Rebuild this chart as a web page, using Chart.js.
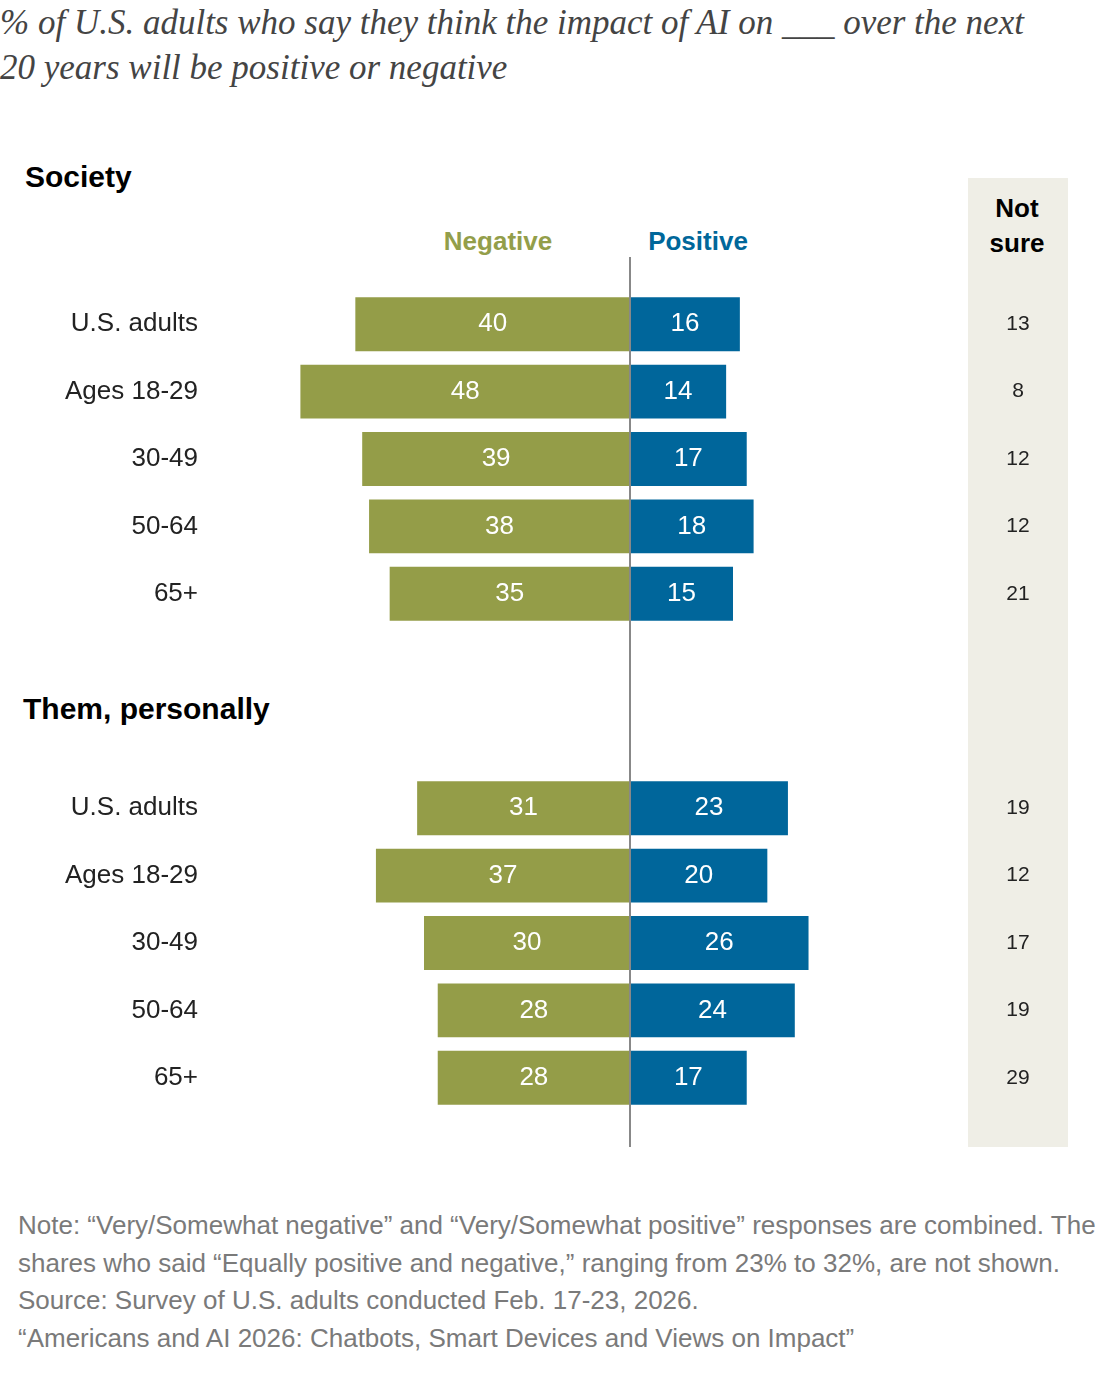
<!DOCTYPE html>
<html><head><meta charset="utf-8">
<script src="https://cdn.jsdelivr.net/npm/chart.js@4"></script>
<style>
body{margin:0;width:1103px;height:1394px;position:relative;background:#fff;font-family:"Liberation Sans",Arial,sans-serif;overflow:hidden}
.abs{position:absolute}
#title{left:18px;top:18px;width:1060px;font-family:"Liberation Serif",serif;font-style:italic;font-size:35px;line-height:45px;color:#444}
.sec{font-weight:bold;font-size:30px;color:#000}
.hd{font-weight:bold;font-size:26px;transform:translateX(-50%)}
#ns{left:968px;top:178px;width:100px;height:969px;background:#efeee6}
#note{left:18px;top:1207px;width:1080px;font-size:26px;line-height:37.5px;color:#7a7a7a}
#axis{left:629px;top:257px;width:2px;height:890px;background:#888}
canvas{position:absolute;left:0}
</style></head><body>
<div id="title">% of U.S. adults who say they think the impact of AI on ___ over the next 20 years will be positive or negative</div>
<div id="ns" class="abs"></div>
<div class="abs sec" style="left:25px;top:160px">Society</div>
<div class="abs sec" style="left:23px;top:692px">Them, personally</div>
<div class="abs hd" style="left:498px;top:226px;color:#939e4a">Negative</div>
<div class="abs hd" style="left:698px;top:226px;color:#00679a">Positive</div>
<div class="abs hd" style="left:1017px;top:191px;text-align:center;line-height:35px;color:#000">Not<br>sure</div>
<div style="position:absolute;left:0;top:263px;width:1103px;height:392px"><canvas id="c1"></canvas></div>
<div style="position:absolute;left:0;top:747px;width:1103px;height:392px"><canvas id="c2"></canvas></div>
<div id="axis" class="abs"></div>
<div id="note" class="abs">Note: “Very/Somewhat negative” and “Very/Somewhat positive” responses are combined. The shares who said “Equally positive and negative,” ranging from 23% to 32%, are not shown.<br>Source: Survey of U.S. adults conducted Feb. 17-23, 2026.<br>“Americans and AI 2026: Chatbots, Smart Devices and Views on Impact”</div>
<script>
const groups = ['U.S. adults', 'Ages 18-29', '30-49', '50-64', '65+'];
const societyNegative = [40, 48, 39, 38, 35];
const societyPositive = [16, 14, 17, 18, 15];
const societyNotSure = [13, 8, 12, 12, 21];
const personalNegative = [31, 37, 30, 28, 28];
const personalPositive = [23, 20, 26, 24, 17];
const personalNotSure = [19, 12, 17, 19, 29];

const labelPlugin = {
  id: 'labels',
  afterDatasetsDraw(chart, args, opts) {
    const ctx = chart.ctx;
    ctx.save();
    ctx.textAlign = 'center';
    ctx.textBaseline = 'middle';
    ctx.fillStyle = '#fff';
    ctx.font = '26px "Liberation Sans", Arial, sans-serif';
    chart.data.datasets.forEach((ds, i) => {
      chart.getDatasetMeta(i).data.forEach((bar, j) => {
        ctx.fillText(Math.abs(ds.data[j]), (bar.x + bar.base) / 2, bar.y);
      });
    });
    ctx.fillStyle = '#222';
    ctx.font = '21px "Liberation Sans", Arial, sans-serif';
    chart.getDatasetMeta(0).data.forEach((bar, j) => {
      ctx.fillText(opts.notSure[j], 1018, bar.y);
    });
    ctx.restore();
  }
};

function makeChart(id, neg, pos, notSure) {
  new Chart(document.getElementById(id), {
    type: 'bar',
    data: {
      labels: groups,
      datasets: [
        { data: neg.map(v => -v), backgroundColor: '#949d48' },
        { data: pos, backgroundColor: '#00669b' }
      ]
    },
    options: {
      indexAxis: 'y',
      responsive: true,
      maintainAspectRatio: false,
      animation: false,
      layout: { padding: { left: 0, right: 61, top: 0, bottom: 0 } },
      plugins: { legend: { display: false }, tooltip: { enabled: false }, labels: { notSure: notSure } },
      scales: {
        x: { display: false, stacked: true, min: -60, max: 60 },
        y: {
          stacked: true,
          afterFit: s => { s.width = 218; },
          grid: { display: false },
          border: { display: false },
          ticks: { color: '#222', padding: 12, font: { size: 26, family: '"Liberation Sans", Arial, sans-serif' } }
        }
      },
      datasets: { bar: { categoryPercentage: 1, barPercentage: 0.8 } }
    },
    plugins: [labelPlugin]
  });
}

makeChart('c1', societyNegative, societyPositive, societyNotSure);
makeChart('c2', personalNegative, personalPositive, personalNotSure);
</script>
</body></html>
